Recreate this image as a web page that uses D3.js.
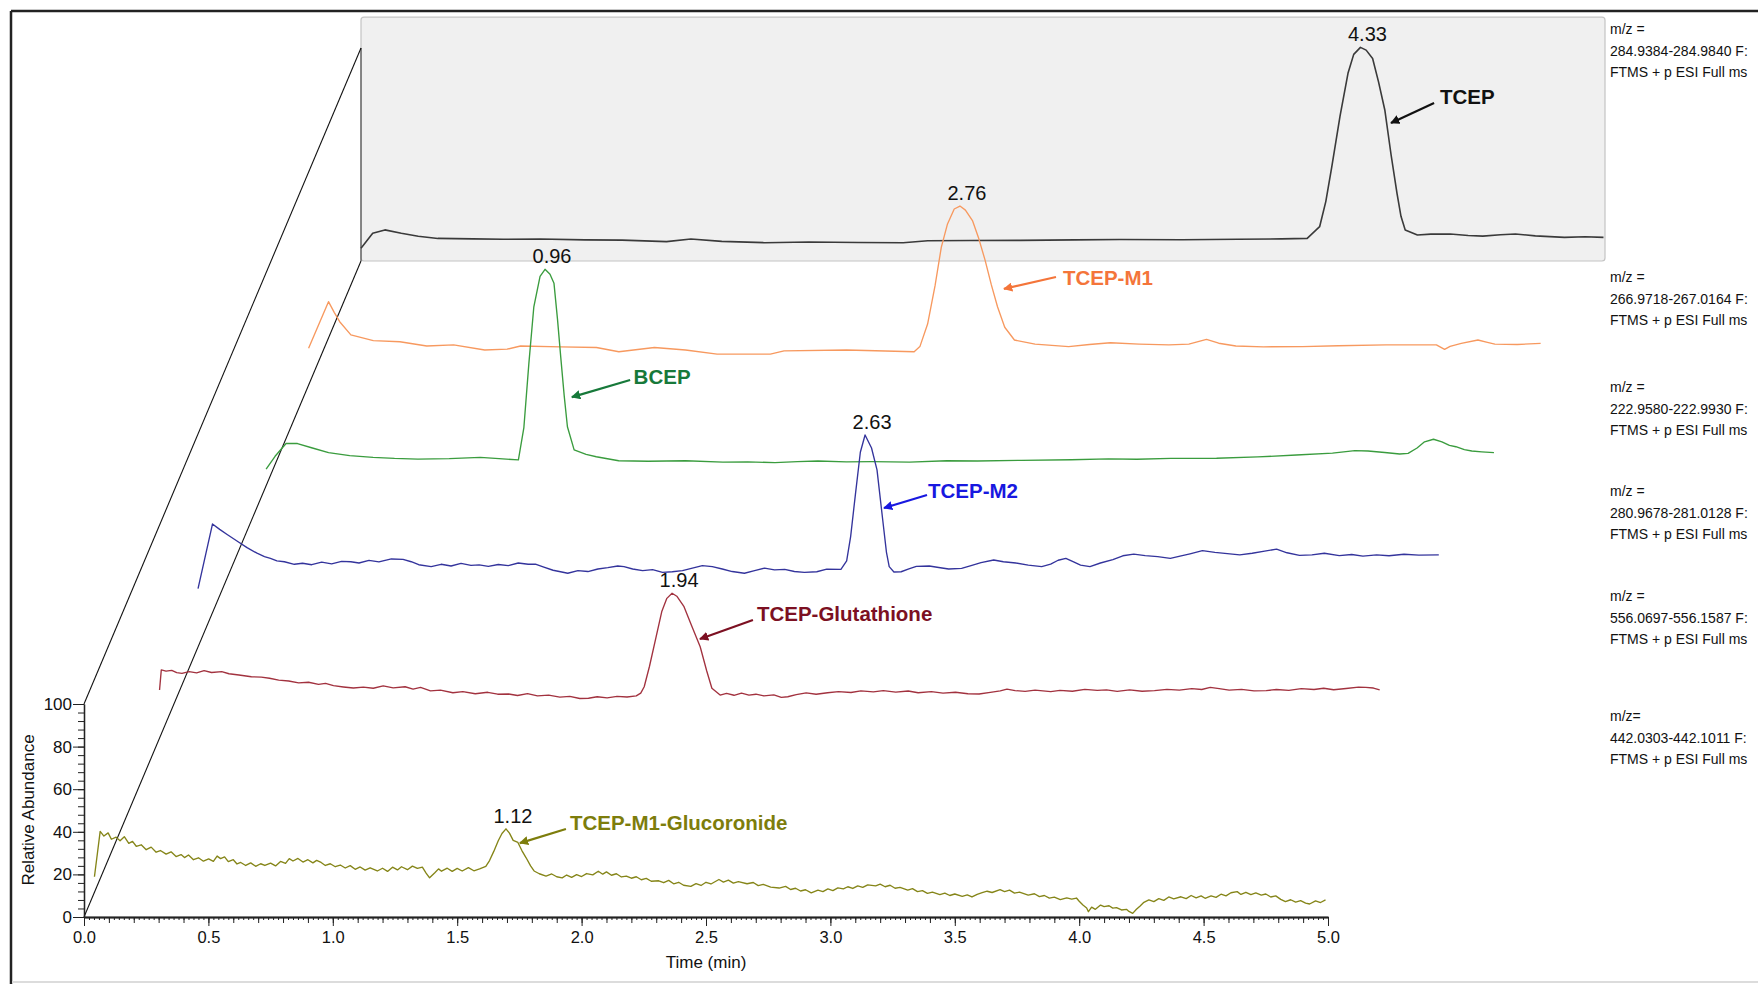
<!DOCTYPE html>
<html>
<head>
<meta charset="utf-8">
<script src="https://cdn.jsdelivr.net/npm/d3@7"></script>
<style>
body { margin: 0; background: #fff; }
text { font-family: "Liberation Sans", Arial, sans-serif; }
</style>
</head>
<body>
<div id="graph"></div>
<script>
// each trace: [time (min), relative abundance]
var tcepData = [[0.0,6.0],[0.047,13.0],[0.096,14.6],[0.162,13.0],[0.23,11.6],[0.309,10.6],[0.45,10.4],[0.572,10.2],[0.72,10.3],[0.9,9.9],[1.05,9.8],[1.228,9.1],[1.326,10.3],[1.45,9.2],[1.622,8.6],[1.8,8.9],[2.0,8.7],[2.179,8.6],[2.278,9.5],[2.45,9.6],[2.65,9.7],[2.869,9.9],[3.05,10.1],[3.3,10.0],[3.524,10.2],[3.7,10.4],[3.803,10.6],[3.853,16.1],[3.878,28.0],[3.902,44.3],[3.935,68.0],[3.967,88.1],[3.99,97.0],[4.017,100.3],[4.04,99.0],[4.066,95.1],[4.09,84.0],[4.115,70.9],[4.14,50.0],[4.164,31.8],[4.18,21.0],[4.197,14.6],[4.246,12.2],[4.3,12.6],[4.378,12.7],[4.45,12.0],[4.509,11.7],[4.58,12.3],[4.64,12.7],[4.72,11.8],[4.837,11.1],[4.92,11.4],[4.994,11.1]];

var m1Data = [[0.012,20.6],[0.092,42.5],[0.115,37.5],[0.137,33.1],[0.182,26.9],[0.272,24.2],[0.379,23.7],[0.487,21.7],[0.595,22.2],[0.72,19.8],[0.81,20.2],[0.864,21.7],[1.025,21.3],[1.169,21.0],[1.259,19.0],[1.402,21.0],[1.527,19.8],[1.654,17.9],[1.868,17.9],[1.923,19.4],[2.174,19.8],[2.446,19.0],[2.469,21.4],[2.5,32.0],[2.53,50.0],[2.555,68.0],[2.58,79.0],[2.607,86.0],[2.63,87.4],[2.652,85.5],[2.681,80.4],[2.706,72.0],[2.731,62.0],[2.756,50.5],[2.781,40.1],[2.81,30.5],[2.849,24.5],[2.932,22.6],[3.067,21.4],[3.15,22.4],[3.235,23.2],[3.35,22.6],[3.47,22.2],[3.55,22.6],[3.621,24.8],[3.67,23.0],[3.739,21.7],[3.85,21.3],[4.007,21.4],[4.15,21.8],[4.343,22.2],[4.545,22.2],[4.578,20.1],[4.6,21.5],[4.645,22.9],[4.712,24.5],[4.75,23.4],[4.78,22.6],[4.87,22.4],[4.964,22.9]];

var bcepData = [[0.064,25.5],[0.1,31.5],[0.145,37.6],[0.19,37.5],[0.25,35.4],[0.315,33.2],[0.4,31.8],[0.494,31.0],[0.58,30.5],[0.674,30.2],[0.8,30.4],[0.925,31.0],[1.0,30.4],[1.078,29.8],[1.1,45.0],[1.12,75.0],[1.14,101.7],[1.165,116.0],[1.185,119.3],[1.205,117.0],[1.221,112.7],[1.235,96.0],[1.248,78.3],[1.262,60.0],[1.275,45.4],[1.302,34.5],[1.35,32.4],[1.391,31.3],[1.481,29.4],[1.6,29.2],[1.75,29.4],[1.9,28.8],[2.0,28.9],[2.109,28.5],[2.2,29.0],[2.282,29.3],[2.396,28.9],[2.5,29.0],[2.65,28.8],[2.8,29.4],[2.923,29.3],[3.1,29.6],[3.3,29.9],[3.45,30.3],[3.564,30.1],[3.7,30.5],[3.884,30.6],[4.05,31.2],[4.205,32.1],[4.35,33.0],[4.44,34.2],[4.493,34.0],[4.56,33.3],[4.62,32.6],[4.654,32.9],[4.69,35.4],[4.72,38.3],[4.756,39.5],[4.79,38.3],[4.82,36.6],[4.846,36.0],[4.88,34.6],[4.91,34.0],[4.95,33.6],[4.999,33.2]];

var m2Data = [[0.013,31.0],[0.071,61.3],[0.1,58.8],[0.13,56.4],[0.174,53.0],[0.21,50.2],[0.25,47.6],[0.28,46.0],[0.304,45.2],[0.33,44.0],[0.36,43.6],[0.4,42.4],[0.433,42.9],[0.47,42.2],[0.51,43.4],[0.55,42.6],[0.59,43.8],[0.627,43.6],[0.66,43.0],[0.7,44.2],[0.74,43.5],[0.79,44.9],[0.837,44.7],[0.87,43.6],[0.9,42.2],[0.95,41.3],[0.99,42.4],[1.03,41.6],[1.07,42.8],[1.11,41.9],[1.143,42.1],[1.18,41.4],[1.22,42.3],[1.26,41.8],[1.3,43.0],[1.34,42.4],[1.369,42.5],[1.4,41.2],[1.44,39.6],[1.47,38.9],[1.499,38.2],[1.54,39.4],[1.58,39.0],[1.62,40.2],[1.66,40.8],[1.7,41.6],[1.725,41.3],[1.76,40.2],[1.8,39.4],[1.84,39.9],[1.88,38.6],[1.919,38.9],[1.96,39.4],[2.0,40.6],[2.04,41.8],[2.08,41.3],[2.12,40.2],[2.16,39.0],[2.209,38.2],[2.25,39.4],[2.29,40.6],[2.33,39.8],[2.371,40.0],[2.41,39.0],[2.45,38.6],[2.5,38.9],[2.54,40.1],[2.597,40.0],[2.62,44.0],[2.636,55.4],[2.655,75.0],[2.675,95.0],[2.694,103.1],[2.72,97.0],[2.742,86.7],[2.765,63.2],[2.78,48.0],[2.791,41.3],[2.81,38.8],[2.839,38.9],[2.87,40.2],[2.9,41.4],[2.952,41.6],[2.99,40.9],[3.03,40.2],[3.082,40.5],[3.12,41.8],[3.16,43.2],[3.211,44.4],[3.25,43.6],[3.3,43.0],[3.35,42.0],[3.404,41.3],[3.44,42.5],[3.47,44.3],[3.501,45.2],[3.53,43.6],[3.56,42.0],[3.598,41.3],[3.64,43.0],[3.69,44.6],[3.73,46.4],[3.774,47.2],[3.82,46.5],[3.87,46.0],[3.921,45.2],[3.96,46.2],[4.0,47.3],[4.05,48.8],[4.1,48.0],[4.15,47.4],[4.2,46.8],[4.25,47.6],[4.3,48.6],[4.348,49.5],[4.39,47.8],[4.44,46.6],[4.49,46.8],[4.54,47.6],[4.6,46.5],[4.65,47.0],[4.695,46.2],[4.75,46.8],[4.8,46.4],[4.86,47.1],[4.92,46.7],[5.0,46.8]];

var glutData = [[0.081,45.0],[0.088,54.4],[0.107,53.8],[0.13,54.2],[0.15,53.1],[0.171,52.8],[0.2,53.6],[0.23,53.0],[0.26,54.1],[0.29,53.2],[0.331,53.6],[0.36,52.6],[0.4,52.0],[0.45,51.2],[0.49,51.0],[0.523,50.5],[0.56,49.6],[0.6,49.2],[0.64,48.3],[0.68,48.6],[0.72,47.6],[0.748,48.1],[0.78,47.0],[0.82,46.4],[0.86,45.9],[0.9,46.3],[0.94,45.8],[0.98,46.9],[1.02,46.0],[1.068,46.5],[1.1,45.4],[1.13,46.2],[1.17,44.6],[1.21,44.9],[1.26,43.7],[1.3,44.2],[1.35,43.2],[1.4,43.9],[1.44,43.0],[1.484,43.1],[1.52,42.4],[1.56,43.3],[1.6,42.2],[1.645,42.6],[1.69,41.6],[1.73,42.0],[1.77,41.0],[1.805,41.1],[1.84,41.8],[1.88,41.3],[1.92,42.0],[1.96,41.7],[1.997,42.2],[2.015,43.5],[2.029,46.5],[2.05,56.0],[2.077,70.0],[2.1,82.0],[2.12,88.0],[2.141,90.4],[2.16,89.0],[2.189,84.1],[2.22,75.0],[2.254,65.3],[2.28,54.0],[2.301,45.8],[2.334,42.6],[2.36,43.4],[2.39,42.5],[2.42,43.5],[2.45,42.6],[2.478,43.0],[2.51,42.2],[2.55,42.7],[2.58,41.5],[2.606,41.8],[2.64,42.8],[2.68,43.6],[2.72,43.0],[2.766,43.7],[2.81,44.2],[2.86,43.8],[2.9,44.6],[2.95,44.1],[2.99,44.7],[3.04,44.0],[3.09,44.5],[3.13,43.7],[3.183,44.2],[3.23,43.5],[3.28,43.9],[3.33,43.2],[3.375,43.1],[3.42,43.9],[3.46,44.6],[3.487,45.4],[3.52,44.7],[3.56,44.3],[3.6,44.9],[3.663,44.2],[3.7,44.8],[3.75,44.4],[3.8,45.3],[3.85,44.8],[3.887,45.0],[3.93,44.3],[3.98,45.0],[4.03,44.4],[4.08,44.7],[4.13,45.3],[4.18,44.9],[4.23,45.6],[4.27,45.2],[4.304,46.2],[4.34,45.6],[4.38,44.9],[4.43,45.3],[4.48,44.6],[4.529,44.7],[4.57,45.2],[4.62,44.8],[4.67,45.6],[4.721,45.2],[4.76,45.8],[4.8,45.1],[4.85,45.7],[4.9,46.3],[4.929,46.2],[4.96,45.9],[4.985,45.0]];

var glucData = [[0.042,18.9],[0.065,40.2],[0.08,38],[0.097,39.5],[0.11,36.5],[0.129,37.5],[0.145,35.8],[0.162,37.7],[0.18,34.6],[0.195,35.5],[0.21,33.2],[0.23,33.9],[0.25,31.6],[0.27,32.8],[0.29,30.4],[0.307,31.2],[0.33,29.5],[0.35,30.6],[0.37,28.4],[0.39,29.3],[0.404,27.9],[0.42,29.1],[0.44,26.9],[0.46,27.8],[0.48,26.2],[0.501,27.3],[0.52,26.1],[0.535,28.6],[0.549,27.4],[0.565,28.2],[0.58,26.0],[0.6,26.9],[0.615,24.9],[0.63,25.6],[0.65,24.2],[0.67,25.4],[0.69,23.8],[0.71,25.0],[0.727,24.2],[0.75,25.3],[0.77,24.0],[0.79,26.1],[0.81,25.2],[0.825,27.4],[0.84,26.3],[0.86,27.5],[0.88,25.8],[0.9,26.9],[0.92,25.4],[0.935,26.6],[0.953,25.6],[0.97,24.2],[0.99,25.0],[1.01,23.6],[1.03,24.4],[1.05,23.0],[1.07,24.1],[1.09,22.4],[1.11,23.5],[1.13,22.0],[1.15,23.1],[1.179,21.6],[1.2,22.9],[1.22,21.4],[1.24,23.4],[1.26,22.1],[1.276,23.6],[1.3,22.2],[1.32,23.9],[1.34,22.8],[1.36,23.4],[1.375,20.6],[1.389,18.4],[1.41,20.8],[1.425,22.6],[1.437,21.5],[1.46,22.9],[1.48,21.4],[1.5,22.8],[1.52,21.6],[1.545,23.2],[1.567,21.7],[1.59,22.6],[1.615,23.8],[1.63,26.5],[1.647,30.8],[1.665,35.8],[1.68,39.2],[1.696,41.4],[1.71,39.4],[1.725,36.0],[1.744,35.0],[1.76,31.2],[1.777,27.8],[1.795,24.0],[1.809,21.6],[1.83,20.3],[1.857,19.2],[1.88,20.2],[1.9,18.9],[1.922,18.4],[1.94,19.7],[1.96,18.6],[1.98,19.9],[2.0,19.0],[2.02,20.4],[2.045,19.8],[2.067,21.5],[2.085,20.1],[2.1,21.2],[2.12,19.6],[2.14,20.3],[2.16,18.8],[2.18,19.2],[2.2,18.2],[2.22,18.9],[2.24,17.5],[2.26,18.1],[2.28,16.8],[2.31,17.0],[2.33,16.1],[2.35,17.2],[2.37,15.6],[2.39,16.3],[2.41,14.9],[2.439,14.4],[2.46,15.7],[2.48,14.8],[2.5,16.3],[2.52,15.5],[2.552,17.6],[2.57,16.4],[2.59,17.3],[2.61,15.9],[2.63,16.6],[2.665,15.6],[2.69,16.2],[2.71,14.7],[2.73,15.3],[2.76,14.0],[2.794,13.6],[2.82,14.4],[2.84,12.9],[2.86,13.5],[2.88,12.2],[2.9,12.8],[2.923,11.3],[2.95,12.6],[2.97,11.9],[2.99,13.2],[3.01,12.4],[3.03,13.7],[3.052,13.2],[3.07,14.2],[3.09,13.4],[3.11,14.6],[3.13,13.9],[3.15,15.1],[3.182,14.6],[3.2,15.4],[3.22,14.2],[3.24,14.9],[3.26,13.5],[3.28,13.9],[3.311,12.6],[3.33,13.3],[3.35,11.9],[3.37,12.4],[3.39,11.1],[3.41,11.7],[3.44,10.5],[3.46,11.2],[3.48,10.1],[3.5,10.8],[3.53,9.7],[3.55,10.4],[3.569,9.4],[3.59,10.6],[3.61,11.4],[3.63,12.1],[3.65,11.5],[3.682,12.8],[3.7,11.9],[3.72,12.6],[3.74,11.2],[3.76,11.7],[3.795,10.3],[3.82,10.9],[3.84,9.6],[3.86,10.1],[3.88,8.9],[3.9,9.3],[3.924,8.2],[3.95,9.0],[3.97,8.4],[3.989,8.9],[4.0,7.4],[4.015,5.6],[4.03,4.2],[4.037,2.5],[4.05,4.6],[4.065,3.6],[4.086,5.6],[4.1,4.9],[4.12,5.3],[4.135,4.2],[4.15,4.4],[4.17,3.3],[4.19,3.6],[4.2,2.6],[4.215,1.7],[4.23,3.6],[4.245,5.2],[4.26,6.9],[4.28,8.0],[4.3,7.2],[4.32,8.6],[4.34,7.8],[4.36,9.4],[4.38,8.5],[4.409,9.5],[4.43,8.6],[4.45,10.1],[4.47,9.0],[4.49,9.9],[4.506,8.8],[4.53,9.9],[4.55,9.2],[4.57,10.7],[4.59,9.9],[4.61,11.4],[4.635,11.9],[4.65,10.6],[4.67,11.6],[4.69,10.5],[4.71,11.3],[4.732,10.3],[4.75,10.8],[4.77,9.4],[4.79,9.9],[4.81,8.3],[4.829,7.2],[4.85,8.1],[4.87,7.0],[4.89,7.7],[4.91,6.5],[4.926,6.1],[4.95,7.6],[4.97,6.8],[4.99,8.0]];

var compounds = ["TCEP", "TCEP-M1", "BCEP", "TCEP-M2", "TCEP-Glutathione", "TCEP-M1-Glucoronide"];
var peakLabels = ["4.33", "2.76", "0.96", "2.63", "1.94", "1.12"];
var mzRanges = ["284.9384-284.9840 F:", "266.9718-267.0164 F:", "222.9580-222.9930 F:",
                "280.9678-281.0128 F:", "556.0697-556.1587 F:", "442.0303-442.1011 F:"];
var mzHeads = ["m/z =", "m/z =", "m/z =", "m/z =", "m/z =", "m/z="];
var scanFilter = "FTMS + p ESI Full ms";
var xTicks = [0, 0.5, 1, 1.5, 2, 2.5, 3, 3.5, 4, 4.5, 5];
var yTicks = [0, 20, 40, 60, 80, 100];

// annotation anchors in each trace's own (time, abundance) units
var tagPos = [[4.337,73.9],[3.044,50.3],[1.541,65.4],[2.947,73.5],[2.482,77.4],[1.953,40.8]];
var arrowPos = [
    [[4.313,74.2],[4.14,64.8]],
    [[3.016,54.1],[2.807,48.5]],
    [[1.527,67.3],[1.293,59.3]],
    [[2.943,74.9],[2.77,68.8]],
    [[2.466,77.8],[2.253,68.9]],
    [[1.937,41.3],[1.752,34.7]]
];

var seriesData = [tcepData, m1Data, bcepData, m2Data, glutData, glucData];
var lineColors = ["#3a3a3a", "#f7995f", "#3a9c3e", "#34349c", "#a2323f", "#858518"];
var tagColors = ["#111111", "#f4753a", "#17793a", "#1818e0", "#7c1022", "#7d7d0c"];
var depths = [5, 4, 3, 2, 1, 0];
var mzTop = [29, 277, 387, 491, 596, 716];

var width = 1758, height = 984;

var x = d3.scaleLinear().domain([0, 5]).range([84, 1328]);
var y = d3.scaleLinear().domain([0, 100]).range([917, 704]);
var depthX = d3.scaleLinear().domain([0, 5]).range([0, 277]);
var depthY = d3.scaleLinear().domain([0, 5]).range([0, -656]);

function px(t, d) { return x(t) + depthX(d); }
function py(v, d) { return y(v) + depthY(d); }

var svg = d3.select("#graph").append("svg")
    .attr("width", width)
    .attr("height", height)
    .style("display", "block");

svg.append("rect").attr("width", width).attr("height", height).attr("fill", "#fff");

// outer frame
svg.append("line").attr("x1", 11).attr("x2", width).attr("y1", 11).attr("y2", 11)
    .attr("stroke", "#222").attr("stroke-width", 2.5);
svg.append("line").attr("x1", 11).attr("x2", 11).attr("y1", 11).attr("y2", height)
    .attr("stroke", "#222").attr("stroke-width", 2.5);
svg.append("line").attr("x1", 12).attr("x2", width).attr("y1", 982).attr("y2", 982)
    .attr("stroke", "#dcdcdc").attr("stroke-width", 2);

// back panel (highlighted TCEP plane)
var panelTop = 114.5;
svg.append("rect")
    .attr("x", px(0, 5))
    .attr("y", py(panelTop, 5))
    .attr("width", px(5, 5) - px(0, 5))
    .attr("height", py(0, 5) - py(panelTop, 5))
    .attr("rx", 3)
    .attr("fill", "#f0f0f0")
    .attr("stroke", "#c4c4c4")
    .attr("stroke-width", 1.2);
svg.append("line")
    .attr("x1", px(0, 5)).attr("x2", px(0, 5))
    .attr("y1", py(0, 5)).attr("y2", py(100, 5))
    .attr("stroke", "#333").attr("stroke-width", 1);

// depth diagonals
[0, 100].forEach(function(v) {
    svg.append("line")
        .attr("x1", px(0, 0)).attr("y1", py(v, 0))
        .attr("x2", px(0, 5)).attr("y2", py(v, 5))
        .attr("stroke", "#111").attr("stroke-width", 1.1);
});

// arrow marker per colour
var defs = svg.append("defs");
tagColors.forEach(function(c, i) {
    defs.append("marker")
        .attr("id", "arr" + i)
        .attr("viewBox", "0 0 10 10")
        .attr("refX", 9).attr("refY", 5)
        .attr("markerWidth", 4.2).attr("markerHeight", 4.2)
        .attr("markerUnits", "strokeWidth")
        .attr("orient", "auto")
        .append("path")
        .attr("d", "M0,0 L10,5 L0,10 Z")
        .attr("fill", c);
});

// traces
seriesData.forEach(function(data, i) {
    var d = depths[i];
    var line = d3.line()
        .x(function(p) { return px(p[0], d); })
        .y(function(p) { return py(p[1], d); })
        .curve(d3.curveLinear);

    svg.append("path")
        .attr("d", line(data))
        .attr("fill", "none")
        .attr("stroke", lineColors[i])
        .attr("stroke-width", i === 0 ? 1.6 : 1.35)
        .attr("stroke-linejoin", "round");

    // retention time label above the peak
    var peak = d3.greatest(data, function(p) { return p[1]; });
    svg.append("text")
        .attr("x", px(peak[0], d) + 7)
        .attr("y", py(peak[1], d) - 6)
        .attr("text-anchor", "middle")
        .attr("font-size", 20)
        .attr("fill", "#111")
        .text(peakLabels[i]);

    // compound name + arrow
    var a = arrowPos[i];
    svg.append("line")
        .attr("x1", px(a[0][0], d)).attr("y1", py(a[0][1], d))
        .attr("x2", px(a[1][0], d)).attr("y2", py(a[1][1], d))
        .attr("stroke", tagColors[i])
        .attr("stroke-width", 2.2)
        .attr("marker-end", "url(#arr" + i + ")");
    svg.append("text")
        .attr("x", px(tagPos[i][0], d))
        .attr("y", py(tagPos[i][1], d))
        .attr("font-size", 20.5)
        .attr("font-weight", "bold")
        .attr("fill", tagColors[i])
        .text(compounds[i]);

    // m/z description on the right
    var g = svg.append("g")
        .attr("transform", "translate(1610," + (mzTop[i] + 5) + ")")
        .attr("font-size", 14)
        .attr("fill", "#111");
    [mzHeads[i], mzRanges[i], scanFilter].forEach(function(s, k) {
        g.append("text").attr("y", k * 21.5).text(s);
    });
});

// x axis
var xAxisG = svg.append("g").attr("transform", "translate(0," + y(0) + ")");
xAxisG.append("g")
    .call(d3.axisBottom(x).tickValues(d3.range(0, 251).map(function(k) { return k / 50; }))
        .tickSize(3).tickFormat("").tickSizeOuter(0));
xAxisG.append("g")
    .call(d3.axisBottom(x).tickValues(d3.range(0, 51).map(function(k) { return k / 10; }))
        .tickSize(6).tickFormat("").tickSizeOuter(0));
xAxisG.append("g")
    .call(d3.axisBottom(x).tickValues(xTicks).tickSize(9).tickPadding(5)
        .tickFormat(d3.format(".1f")).tickSizeOuter(0));
xAxisG.selectAll("path.domain").attr("stroke", "#222").attr("stroke-width", 1.3);
xAxisG.selectAll(".tick line").attr("stroke", "#222");
xAxisG.selectAll("text")
    .attr("font-family", "'Liberation Sans', Arial, sans-serif")
    .attr("font-size", 16.5).attr("fill", "#111");

// y axis
var yAxisG = svg.append("g").attr("transform", "translate(" + x(0) + ",0)");
yAxisG.append("g")
    .call(d3.axisLeft(y).tickValues(d3.range(0, 26).map(function(k) { return k * 4; }))
        .tickSize(6).tickFormat("").tickSizeOuter(0));
yAxisG.append("g")
    .call(d3.axisLeft(y).tickValues(yTicks).tickSize(11).tickPadding(1)
        .tickFormat(d3.format("d")).tickSizeOuter(0));
yAxisG.selectAll("path.domain").attr("stroke", "#222").attr("stroke-width", 1.3);
yAxisG.selectAll(".tick line").attr("stroke", "#222");
yAxisG.selectAll("text")
    .attr("font-family", "'Liberation Sans', Arial, sans-serif")
    .attr("font-size", 17).attr("fill", "#111");

// axis titles
svg.append("text")
    .attr("x", (x(0) + x(5)) / 2)
    .attr("y", 968)
    .attr("text-anchor", "middle")
    .attr("font-size", 17)
    .attr("fill", "#111")
    .text("Time (min)");
svg.append("text")
    .attr("transform", "translate(34," + 810 + ") rotate(-90)")
    .attr("text-anchor", "middle")
    .attr("font-size", 17)
    .attr("fill", "#111")
    .text("Relative Abundance");
</script>
</body>
</html>
